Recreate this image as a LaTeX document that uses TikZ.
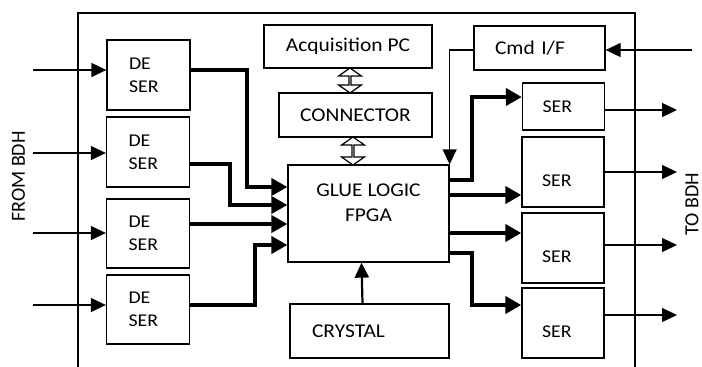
\documentclass[tikz,border=0pt]{standalone}
\usepackage{fontspec}
\setmainfont{Carlito}[FakeStretch=1.1]
\newfontfamily\sidefont{Carlito}
\usepackage{tikz}
\usetikzlibrary{arrows.meta,positioning,shapes.arrows}
\tikzstyle{block}=[draw, line width=1.3pt, inner sep=0pt, font=\fontsize{19.5}{24}\selectfont]
\tikzstyle{deser}=[block, minimum width=83pt, minimum height=70pt, inner xsep=22pt, text width=39pt, align=left, font=\fontsize{18}{23}\selectfont]
\tikzstyle{serbox}=[block, minimum width=82pt, minimum height=70pt, inner xsep=20pt, text width=42pt, align=left, font=\fontsize{18}{23}\selectfont]
\tikzstyle{sidelabel}=[rotate=90, inner sep=0pt, font=\sidefont\fontsize{20}{24}\selectfont]
\tikzstyle{sig}=[line width=1.3pt, -{Triangle[length=15pt,width=14pt]}]
\tikzstyle{bus}=[line width=4.5pt, -{Triangle[length=16pt,width=17pt]}]
\tikzstyle{dblarrow}=[draw, line width=1.2pt, double arrow, shape border rotate=90, inner sep=0pt, minimum width=23pt, double arrow head extend=6pt, double arrow tip angle=110]

\begin{document}
\begin{tikzpicture}[x=1pt, y=-1pt]
	\useasboundingbox (0,0) rectangle (702,367);
	% outer frame, open at the bottom
	\draw[line width=1.3pt] (78,372) -- (78,13) -- (635,13) -- (635,372);
	
	\node[deser] (des1) at (148.5,75) {DE\\SER};
	\node[deser] (des2) at (148,152) {DE\\SER};
	\node[deser, minimum height=69pt] (des3) at (148,233.5) {DE\\SER};
	\node[deser, minimum height=69pt] (des4) at (148,309.5) {DE\\SER};
	
	\node[block, minimum width=168pt, minimum height=43pt] (acq) at (348,46.5) {Acquisition PC};
	\node[block, minimum width=153pt, minimum height=44pt] (conn) at (355.5,115) {CONNECTOR};
	\node[block, minimum width=161pt, minimum height=97pt] (glue) at (368.5,213.5) {};
	\node[align=center, font=\fontsize{19.5}{25}\selectfont] (gluetext) at ([yshift=11pt]glue.center) {GLUE LOGIC\\FPGA};
	\node[block, minimum width=159pt, minimum height=54pt, inner xsep=22pt, text width=115pt, align=left] (crys) at (369.5,331) {CRYSTAL};
	\node[block, minimum width=131pt, minimum height=44pt, inner xsep=21pt, text width=89pt, align=left] (cmd) at (539.5,48) {Cmd I/F};
	
	\node[serbox, minimum width=81pt, minimum height=47pt] (ser1) at (563.5,106.5) {SER};
	\node[serbox, text height=30pt] (ser2) at (563,172) {SER};
	\node[serbox, text height=30pt] (ser3) at (563,248) {SER};
	\node[serbox, text height=30pt] (ser4) at (563,323) {SER};
	
	\node[sidelabel] (from) at (18.5,176.5) {FROM BDH};
	\node[sidelabel] (to) at (692,204.5) {TO BDH};
	
	\node[dblarrow, minimum height=25pt] (pclink) at (350,80.5) {};
	\node[dblarrow, minimum height=28pt] (fpgalink) at (353,151) {};
	
	% inputs from BDH
	\coordinate (in1) at (33,70);
	\coordinate (in2) at (33,153);
	\coordinate (in3) at (33,233);
	\coordinate (in4) at (33,305);
	\draw[sig] (in1) -- (in1 -| des1.west);
	\draw[sig] (in2) -- (in2 -| des2.west);
	\draw[sig] (in3) -- (in3 -| des3.west);
	\draw[sig] (in4) -- (in4 -| des4.west);
	
	% deserializers into the FPGA
	\draw[bus] ([yshift=5pt]des1.east) -| (247,187) -- ([yshift=26.5pt]glue.west);
	\draw[bus] ([yshift=-12pt]des2.east) -| (230,205) -- ([yshift=8.5pt]glue.west);
	\draw[bus] ([yshift=9.5pt]des3.east) -- ([yshift=-10.5pt]glue.west);
	\draw[bus] ([yshift=4.5pt]des4.east) -| (255,245) -- ([yshift=-31.5pt]glue.west);
	
	% FPGA to serializers
	\draw[bus] ([yshift=33.5pt]glue.east) -| (472,97) -- ([yshift=9.5pt]ser1.west);
	\draw[bus] ([yshift=18.5pt]glue.east) -- ([yshift=-23pt]ser2.west);
	\draw[bus] ([yshift=-19.5pt]glue.east) -- ([yshift=15pt]ser3.west);
	\draw[bus] ([yshift=-39.5pt]glue.east) -| (472,305) -- ([yshift=18pt]ser4.west);
	
	% command and clock
	\coordinate (cmdin) at (692,50);
	\draw[sig] (cmdin) -- (cmdin -| cmd.east);
	\draw[sig] ([yshift=-2pt]cmd.west) -| (glue.north east);
	\draw[sig, line width=2.2pt] ([xshift=-7pt]crys.north) -- ([xshift=-7pt]glue.south);
	
	% outputs to BDH
	\coordinate (out1) at (677,110);
	\coordinate (out2) at (677,172);
	\coordinate (out3) at (677,245);
	\coordinate (out4) at (677,315);
	\draw[sig] (out1 -| ser1.east) -- (out1);
	\draw[sig] (out2 -| ser2.east) -- (out2);
	\draw[sig] (out3 -| ser3.east) -- (out3);
	\draw[sig] (out4 -| ser4.east) -- (out4);
\end{tikzpicture}
\end{document}
